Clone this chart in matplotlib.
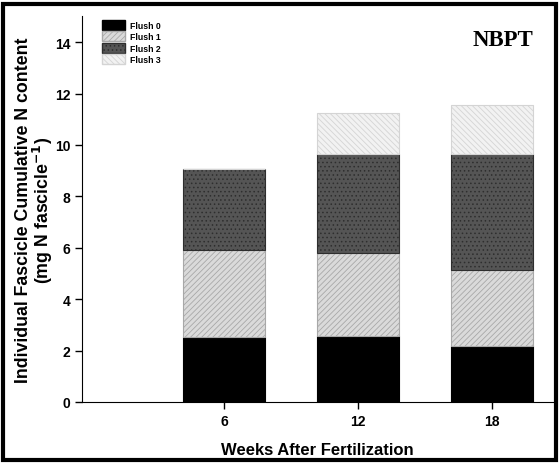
import matplotlib
matplotlib.use("Agg")
import matplotlib.pyplot as plt
from matplotlib.patches import Patch, Rectangle
import numpy as np

# datos
weeks = [6, 12, 18]
flush0 = [2.52, 2.58, 2.18]
flush1 = [3.39, 3.21, 2.97]
flush2 = [3.16, 3.86, 4.50]
flush3 = [0.00, 1.60, 1.92]
series_labels = ['Flush 0', 'Flush 1', 'Flush 2', 'Flush 3']

plt.rcParams['font.family'] = ['Liberation Sans', 'DejaVu Sans']
plt.rcParams['hatch.linewidth'] = 0.6

fig = plt.figure(figsize=(5.59, 4.64), dpi=100)
ax = fig.add_axes([0.1467, 0.1315, 0.8426, 0.831])

# estilos de cada flush
styles = [
    dict(facecolor='black', edgecolor='black', hatch=None),
    dict(facecolor='#dadada', edgecolor='#a8a8a8', hatch='//////'),
    dict(facecolor='#555555', edgecolor='#2e2e2e', hatch='....'),
    dict(facecolor='#f2f2f2', edgecolor='#d4d4d4', hatch='\\\\\\\\\\\\'),
]

bottom = np.zeros(len(weeks))
for vals, st in zip([flush0, flush1, flush2, flush3], styles):
    ax.bar(weeks, vals, width=3.67, bottom=bottom, linewidth=0.8, **st)
    bottom += np.array(vals)

ax.set_xlim(-0.37, 20.72)
ax.set_ylim(0, 15)
ax.set_xticks(weeks)
ax.set_yticks(np.arange(0, 15, 2))
ax.tick_params(direction='out', length=5, width=1, labelsize=10)
for lab in ax.get_xticklabels() + ax.get_yticklabels():
    lab.set_fontweight('bold')
ax.spines['top'].set_visible(False)
ax.spines['right'].set_visible(False)

ax.set_xlabel('Weeks After Fertilization', fontsize=12, fontweight='bold', labelpad=10)
ax.set_ylabel('Individual Fascicle Cumulative N content\n(mg N fascicle$^{\\mathbf{-1}}$)',
              fontsize=12.8, fontweight='bold', labelpad=0, linespacing=0.95)

handles = [Patch(**st, label=l) for st, l in zip(styles, series_labels)]
ax.legend(handles=handles, loc='upper left', bbox_to_anchor=(0.0425, 0.991),
          frameon=False, prop={'weight': 'bold', 'size': 6.3},
          handlelength=2.6, handleheight=1.4, labelspacing=0.15,
          handletextpad=0.6, borderpad=0, borderaxespad=0)

ax.text(0.893, 0.94, 'NBPT', transform=ax.transAxes, ha='center', va='center',
        fontsize=16.5, fontweight='bold', family=['Liberation Serif', 'DejaVu Serif'])

# marco negro alrededor de la figura
fig.patches.append(Rectangle((0.006, 0.007), 0.988, 0.983, transform=fig.transFigure,
                             fill=False, edgecolor='black', linewidth=3))

fig.savefig('out.png', dpi=100)
